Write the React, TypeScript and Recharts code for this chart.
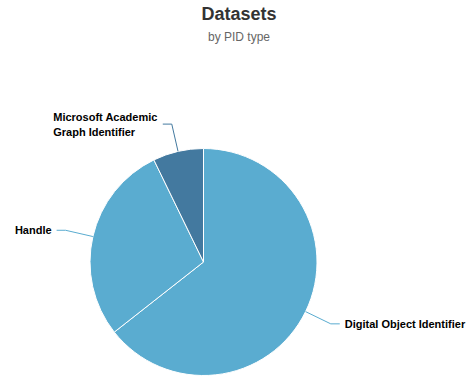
import React from 'react';
import { PieChart, Pie, Cell } from 'recharts';

const categories = ['Digital Object Identifier', 'Handle', 'Microsoft Academic Graph Identifier'];
const shares = [64.4, 28.4, 7.2];
const colors = ['#5aacd0', '#5aacd0', '#43799f'];

const data = categories.map((name, i) => ({ name, value: shares[i] }));

const RADIAN = Math.PI / 180;
const FONT = '"Liberation Sans", Arial, Helvetica, sans-serif';

// only very long names get broken into lines
const wrap = (text: string, max = 20) => {
  if (text.length <= 26) return [text];
  const lines: string[] = [];
  let cur = '';
  text.split(' ').forEach((w) => {
    if (cur && (cur + ' ' + w).length > max) {
      lines.push(cur);
      cur = w;
    } else {
      cur = cur ? cur + ' ' + w : w;
    }
  });
  if (cur) lines.push(cur);
  return lines;
};

let ctx: CanvasRenderingContext2D | null = null;
const measure = (s: string) => {
  if (!ctx) ctx = document.createElement('canvas').getContext('2d');
  if (!ctx) return s.length * 6;
  ctx.font = `bold 11px ${FONT}`;
  return ctx.measureText(s).width;
};

const renderLabel = (props: any) => {
  const { cx, cy, midAngle, outerRadius, name, index } = props;
  const cos = Math.cos(-midAngle * RADIAN);
  const sin = Math.sin(-midAngle * RADIAN);
  const sx = cx + outerRadius * cos;
  const sy = cy + outerRadius * sin;
  const mx = cx + (outerRadius + 28) * cos;
  const my = cy + (outerRadius + 28) * sin;
  const right = cos >= 0;
  const ex = mx + (right ? 1 : -1) * 9;
  const tx = ex + (right ? 1 : -1) * 5;
  const lines = wrap(name);
  const blockW = Math.max(...lines.map(measure));
  const left = right ? tx : tx - blockW;
  const lh = 15;
  const y0 = my + 4 - ((lines.length - 1) * lh) / 2;
  return (
    <g key={`lbl-${index}`}>
      <path d={`M${sx},${sy}L${mx},${my}L${ex},${my}`} stroke={colors[index]} strokeWidth={1} fill="none" />
      <text x={left} y={y0} textAnchor="start" fill="#000" fontSize={11} fontWeight="bold" fontFamily={FONT}>
        {lines.map((l, i) => (
          <tspan key={i} x={left} dy={i === 0 ? 0 : lh}>
            {l}
          </tspan>
        ))}
      </text>
    </g>
  );
};

export default function App() {
  return (
    <div style={{ position: 'absolute', left: 0, top: 0, width: 468, height: 377, background: '#fff', fontFamily: FONT }}>
      <div style={{ position: 'absolute', left: 0, width: 478, top: 4, textAlign: 'center', fontSize: 18, fontWeight: 'bold', color: '#333' }}>
        Datasets
      </div>
      <div style={{ position: 'absolute', left: 0, width: 478, top: 30, textAlign: 'center', fontSize: 12, color: '#666' }}>
        by PID type
      </div>
      <PieChart
        width={468}
        height={377}
        margin={{ top: 0, right: 0, bottom: 0, left: 0 }}
        style={{ position: 'absolute', left: 0, top: 0 }}
      >
        <Pie
          data={data}
          dataKey="value"
          nameKey="name"
          cx={203.5}
          cy={262}
          outerRadius={113.5}
          startAngle={90}
          endAngle={-270}
          stroke="#fff"
          strokeWidth={1}
          label={renderLabel}
          labelLine={false}
          isAnimationActive={false}
        >
          {data.map((d, i) => (
            <Cell key={d.name} fill={colors[i]} />
          ))}
        </Pie>
      </PieChart>
    </div>
  );
}
